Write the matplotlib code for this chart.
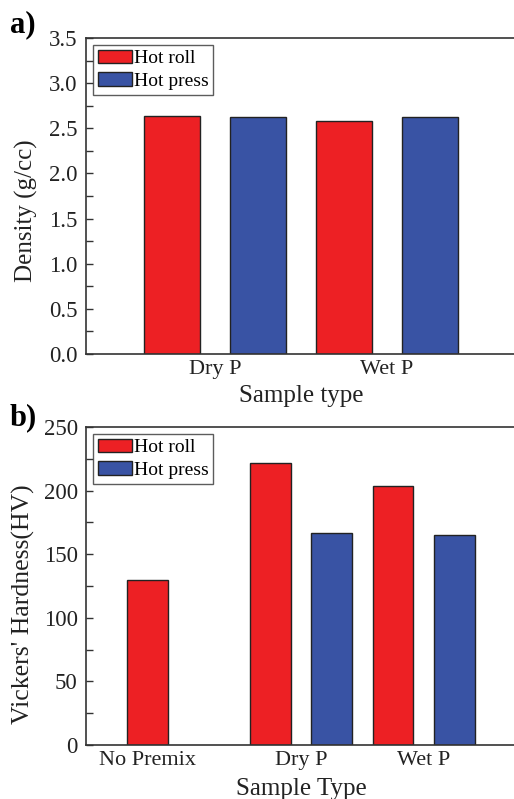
import numpy as np
import matplotlib.pyplot as plt

plt.rcParams['font.family'] = ['Liberation Serif', 'DejaVu Serif']

# panel a: density
dens_cats = ['Dry P', 'Wet P']
dens_roll = [2.64, 2.58]
dens_press = [2.63, 2.63]

# panel b: hardness
hv_cats = ['No Premix', 'Dry P', 'Wet P']
hv_roll = [130, 222, 204]
hv_press = [None, 167, 165]

RED = '#ED2024'
BLUE = '#3953A4'
W, H = 514, 799

fig = plt.figure(figsize=(W / 100, H / 100), dpi=100)


def style(ax, ymax, major, minor):
    ax.set_ylim(0, ymax)
    ax.set_yticks(np.arange(0, ymax + 1e-9, major))
    ax.set_yticks(np.arange(0, ymax + 1e-9, minor), minor=True)
    ax.tick_params(axis='y', which='both', direction='in', length=5, width=1,
                   labelsize=16.5, pad=6, colors='#333333', labelcolor='#222222')
    ax.tick_params(axis='x', length=0, labelsize=16, pad=4, labelcolor='#222222')
    ax.spines['right'].set_visible(False)
    for s in ['left', 'bottom', 'top']:
        ax.spines[s].set_color('#333333')
        ax.spines[s].set_linewidth(1.2)


def legend(ax):
    leg = ax.legend(loc='upper left', fontsize=14, frameon=True, fancybox=False,
                    edgecolor='#333333', handlelength=1.75, handleheight=0.7,
                    handletextpad=0.1, borderpad=0.25, labelspacing=0.25,
                    borderaxespad=0.35)
    leg.get_frame().set_linewidth(1.0)


# ---- panel a
ax1 = fig.add_axes([86 / W, (H - 354) / H, (516 - 86) / W, (354 - 38) / H])
x = np.arange(len(dens_cats))
ax1.bar(x, dens_roll, 0.32, color=RED, edgecolor='#222222', linewidth=1, label='Hot roll')
ax1.bar(x + 0.5, dens_press, 0.32, color=BLUE, edgecolor='#222222', linewidth=1, label='Hot press')
ax1.set_xlim(-0.5, 2.0)
style(ax1, 3.5, 0.5, 0.25)
ax1.set_yticklabels(['%.1f' % v for v in np.arange(0, 3.51, 0.5)])
ax1.set_xticks(x + 0.25)
ax1.set_xticklabels(dens_cats)
ax1.set_ylabel('Density (g/cc)', fontsize=18, color='#222222')
ax1.yaxis.set_label_coords(-0.112, 0.452)
ax1.set_xlabel('Sample type', fontsize=18, labelpad=5, color='#222222')
legend(ax1)
fig.text(10 / W, 1 - 25 / H, 'a)', fontsize=22, fontweight='bold', va='center')

# ---- panel b
ax2 = fig.add_axes([86 / W, (H - 745) / H, (516 - 86) / W, (745 - 427) / H])
x = np.arange(len(hv_cats))
ax2.bar(x, hv_roll, 0.33, color=RED, edgecolor='#222222', linewidth=1, label='Hot roll')
px = [i + 0.5 for i, v in enumerate(hv_press) if v is not None]
pv = [v for v in hv_press if v is not None]
ax2.bar(px, pv, 0.33, color=BLUE, edgecolor='#222222', linewidth=1, label='Hot press')
ax2.set_xlim(-0.5, 3.0)
style(ax2, 250, 50, 25)
ax2.set_xticks([0, 1.25, 2.25])
ax2.set_xticklabels(hv_cats)
ax2.set_ylabel("Vickers' Hardness(HV)", fontsize=18.5, color='#222222')
ax2.yaxis.set_label_coords(-0.118, 0.443)
ax2.set_xlabel('Sample Type', fontsize=18, labelpad=6, color='#222222')
legend(ax2)
fig.text(10 / W, 1 - 418 / H, 'b)', fontsize=22, fontweight='bold', va='center')

fig.savefig('out.png', dpi=100)
